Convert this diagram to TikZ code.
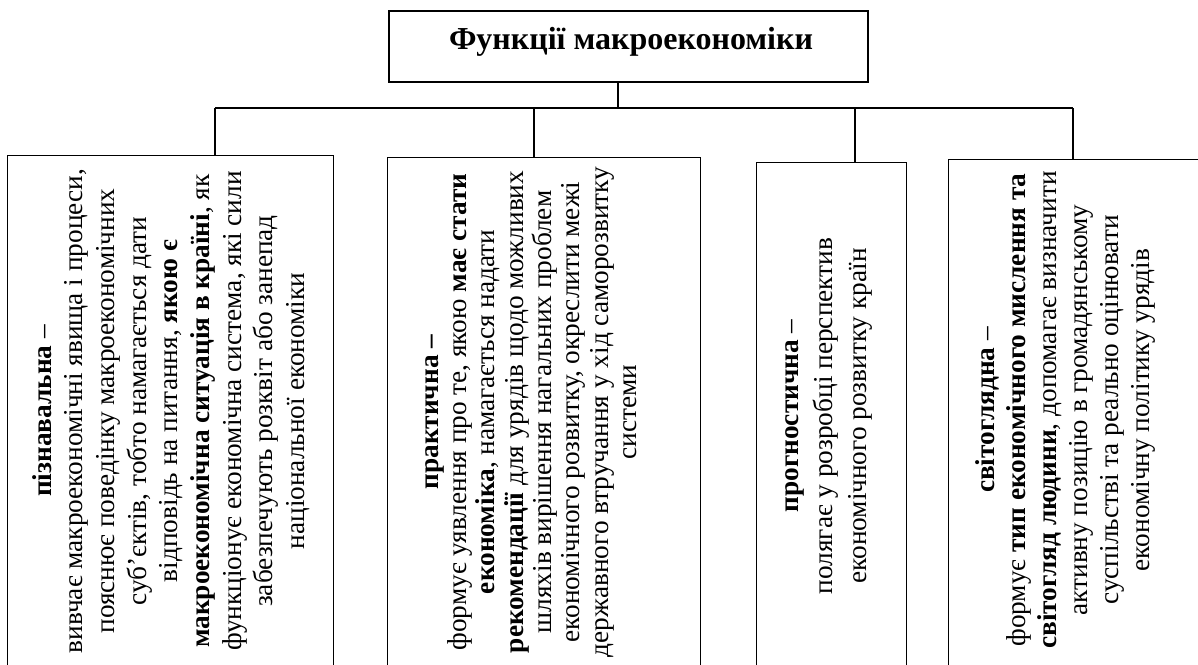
\documentclass[tikz,border=0pt]{standalone}
\usepackage{fontspec}
\setmainfont{Liberation Serif}
\begin{document}
\begin{tikzpicture}[x=1pt,y=-1pt,
  frame/.style={draw, line width=1.4pt, rectangle, inner sep=0pt},
  link/.style={line width=1.4pt},
  body/.style={rotate=90, align=center, inner sep=0pt}]
\useasboundingbox (0,0) rectangle (1198,664);
\clip (0,0) rectangle (1198,664);
% title
\node[frame, minimum width=479pt, minimum height=71pt] (title) at (628.5,46.5) {};
\node[font=\fontsize{32}{36}\selectfont] (titletext) at (631,42) {\textbf{Функції макроекономіки}};
% boxes
\node[frame, anchor=north west, minimum width=326pt, minimum height=540pt] (b1) at (7,155) {};
\node[frame, anchor=north west, minimum width=313pt, minimum height=540pt] (b2) at (387,157) {};
\node[frame, anchor=north west, minimum width=150pt, minimum height=540pt] (b3) at (756,162) {};
\node[frame, anchor=north west, minimum width=260pt, minimum height=540pt] (b4) at (948,159) {};
% connectors
\coordinate (hl) at (215,108);
\coordinate (hr) at (1073,108);
\coordinate (h2) at (534,108);
\coordinate (h3) at (855,108);
\coordinate (hm) at (618,108);
\draw[link] (hl) -- (hr);
\draw[link] (title.south -| hm) -- (hm);
\draw[link] (hl) -- (hl |- b1.north);
\draw[link] (h2) -- (h2 |- b2.north);
\draw[link] (h3) -- (h3 |- b3.north);
\draw[link] (hr) -- (hr |- b4.north);
% texts
\node[body, font=\fontsize{27.3}{31.7}\selectfont] (t1) at (171,411) {\textbf{пізнавальна} –\\
вивчає макроекономічні явища і процеси,\\
пояснює поведінку макроекономічних\\
суб’єктів, тобто намагається дати\\
відповідь на питання, \textbf{якою є}\\
\textbf{макроекономічна ситуація в країні}, як\\
функціонує економічна система, які сили\\
забезпечують розквіт або занепад\\
національної економіки};
\node[body, font=\fontsize{27.3}{28.3}\selectfont] (t2) at (531,412) {\textbf{практична –}\\
формує уявлення про те, якою \textbf{має стати}\\
\textbf{економіка}, намагається надати\\
\textbf{рекомендації} для урядів щодо можливих\\
шляхів вирішення нагальних проблем\\
економічного розвитку, окреслити межі\\
державного втручання у хід саморозвитку\\
системи};
\node[body, font=\fontsize{27.3}{34}\selectfont] (t3) at (829,416) {\textbf{прогностична} –\\
полягає у розробці перспектив\\
економічного розвитку країн};
\node[body, font=\fontsize{27.3}{31}\selectfont] (t4) at (1065,410) {\textbf{світоглядна} –\\
формує \textbf{тип економічного мислення та}\\
\textbf{світогляд людини}, допомагає визначити\\
активну позицію в громадянському\\
суспільстві та реально оцінювати\\
економічну політику урядів};
\end{tikzpicture}
\end{document}
